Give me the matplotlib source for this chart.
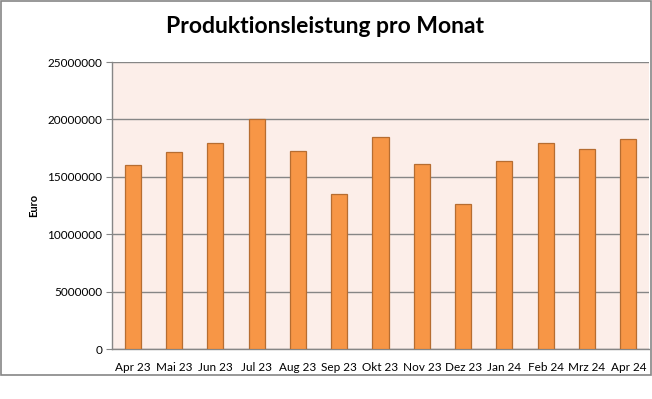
import matplotlib
matplotlib.use("Agg")
import matplotlib.pyplot as plt
from matplotlib.patches import Rectangle

months = ["Apr 23", "Mai 23", "Jun 23", "Jul 23", "Aug 23", "Sep 23", "Okt 23",
          "Nov 23", "Dez 23", "Jan 24", "Feb 24", "Mrz 24", "Apr 24"]
leistung = [16050000, 17200000, 17950000, 20050000, 17250000, 13500000, 18500000,
            16150000, 12600000, 16400000, 17950000, 17450000, 18300000]
y_ticks = [0, 5000000, 10000000, 15000000, 20000000, 25000000]

plt.rcParams['font.family'] = ['Lato', 'DejaVu Sans']

fig = plt.figure(figsize=(6.52, 3.99), dpi=100)
fig.patch.set_facecolor("white")

# outer chart border (Excel style)
fig.patches.append(Rectangle((0.001, 0.0602), 0.997, 0.938, transform=fig.transFigure,
                             fill=False, edgecolor="#868686", linewidth=1.2))

ax = fig.add_axes([0.1718, 0.1253, 0.8236, 0.7193])
ax.set_facecolor("#FCEEE9")

x = list(range(len(months)))
ax.bar(x, leistung, width=0.39, color="#F79646", edgecolor="#B66D31", linewidth=0.9, zorder=3)

ax.set_xlim(-0.5, len(months) - 0.5)
ax.set_ylim(0, 25000000)
ax.set_yticks(y_ticks)
ax.set_yticklabels([str(v) for v in y_ticks], fontsize=8.5)
ax.set_xticks(x)
ax.set_xticklabels(months, fontsize=8.5)
ax.yaxis.grid(True, color="#868686", linewidth=1.0, zorder=1)
ax.set_axisbelow(True)

for s in ["top", "right"]:
    ax.spines[s].set_visible(False)
for s in ["left", "bottom"]:
    ax.spines[s].set_color("#868686")
    ax.spines[s].set_linewidth(1.0)

ax.tick_params(axis="y", length=4, color="#868686", pad=3)
ax.tick_params(axis="x", length=0, pad=9)

ax.set_ylabel("Euro", fontsize=8, fontweight="bold")
ax.yaxis.set_label_coords(-0.135, 0.5)

fig.text(0.499, 0.933, "Produktionsleistung pro Monat", ha="center", va="center",
         fontsize=16.5, fontweight="bold")

fig.savefig("out.png", dpi=100)
